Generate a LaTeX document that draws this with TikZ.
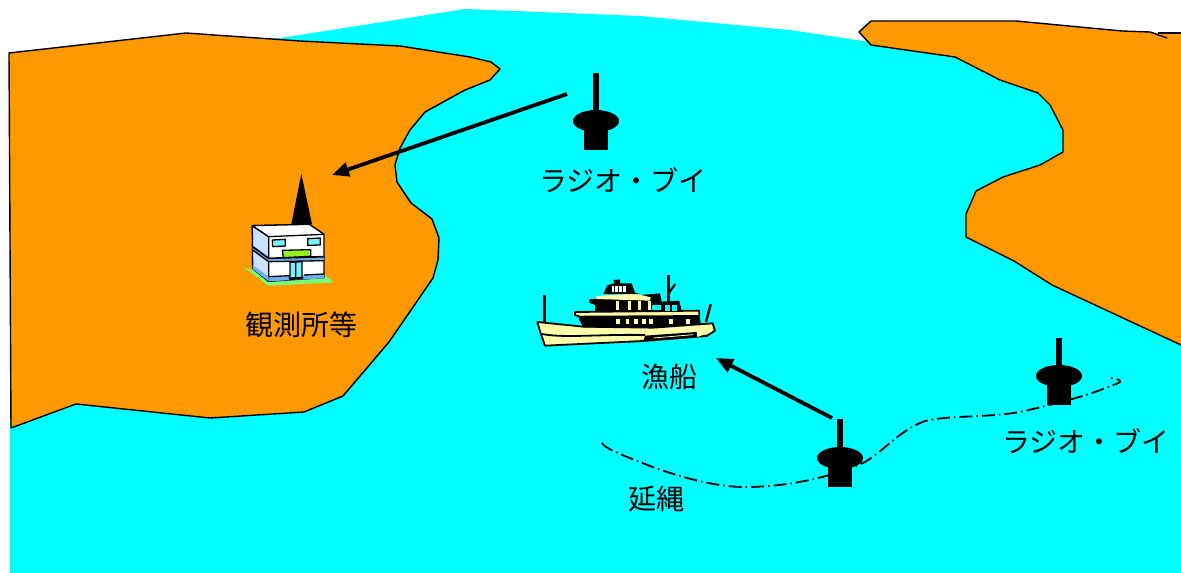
\documentclass[tikz,border=0pt]{standalone}
\usepackage{fontspec}
\newfontfamily\jpfont{Noto Sans CJK JP}
\usetikzlibrary{arrows.meta}
\definecolor{water}{RGB}{0,255,255}
\definecolor{land}{RGB}{255,153,0}
\definecolor{cream}{RGB}{255,255,170}
\definecolor{skyb}{RGB}{204,224,255}
\definecolor{winb}{RGB}{120,240,255}
\definecolor{bandb}{RGB}{110,175,240}
\definecolor{lawn}{RGB}{120,255,120}
\definecolor{limeg}{RGB}{150,240,30}
\tikzset{
  landshape/.style={fill=land,draw=black,line width=1.4pt,line join=round},
  label/.style={font=\jpfont\fontsize{28}{32}\selectfont,text=black,inner sep=0pt},
  mast/.style={fill=black,draw=none},
  signal/.style={draw=black,line width=3.8pt,-{Triangle[length=17pt,width=14pt]}},
  longline/.style={draw=black,line width=1.8pt,dash pattern=on 13pt off 4pt on 1.5pt off 4pt},
  shipline/.style={draw=black,line width=1.8pt,line join=round},
  bldg/.style={draw=black,line width=1.3pt,line join=round}
}
% #1 x, #2 ellipse y, #3 mast top
\newcommand{\buoy}[3]{%
  \fill[mast] (#1-3,#3) rectangle (#1+3,#2);
  \fill[mast] (#1,#2) ellipse [x radius=23,y radius=11];
  \fill[mast] (#1-12,#2+3) rectangle (#1+12,#2+29);
}
\begin{document}
\begin{tikzpicture}[x=1pt,y=-1pt]
\useasboundingbox (0,0) rectangle (1181,573);
\fill[white] (0,0) rectangle (1181,573);
% water
\fill[water] (10,573) -- (10,60) -- (280,38) -- (465,9) -- (640,16) -- (790,30) -- (870,42) -- (1181,60) -- (1181,573) -- cycle;
% left land
\path[landshape] (9,53) -- (186,33) -- (300,41) -- (400,46) -- (470,57) -- (491,62) -- (500,69) -- (490,80) -- (465,90) -- (425,112) -- (410,130) -- (400,148) -- (395,165) -- (397,182) -- (411,203) -- (432,219) -- (439,238) -- (438,260) -- (433,278) -- (389,342) -- (343,396) -- (304,412) -- (210,418) -- (76,404) -- (11,428) -- cycle;
% right land
\fill[land] (859,32) -- (871,21) -- (1016,21) -- (1122,31) -- (1150,32) -- (1158,33) -- (1181,33) -- (1181,345) -- (1052,285) -- (1014,261) -- (966,237) -- (966,214) -- (976,191) -- (1003,177) -- (1040,165) -- (1063,152) -- (1063,130) -- (1050,105) -- (1038,93) -- (1000,80) -- (955,57) -- (871,45) -- cycle;
\draw[landshape,fill=none] (1181,345) -- (1052,285) -- (1014,261) -- (966,237) -- (966,214) -- (976,191) -- (1003,177) -- (1040,165) -- (1063,152) -- (1063,130) -- (1050,105) -- (1038,93) -- (1000,80) -- (955,57) -- (871,45) -- (859,32) -- (871,21) -- (1016,21) -- (1122,31) -- (1150,32) -- (1167,38);
\draw[landshape,fill=none] (1158,33) -- (1181,33);
% long line
\draw[longline] (602,443) .. controls (605,449) and (625,456) .. (650,466) .. controls (680,477) and (715,487) .. (745,487) .. controls (785,487) and (830,478) .. (865,462) .. controls (885,450) and (900,430) .. (925,421) .. controls (950,415) and (985,418) .. (1020,412) .. controls (1050,405) and (1085,397) .. (1113,385) .. controls (1123,382) and (1123,380) .. (1111,378);
% buoys
\buoy{596}{121}{73}
\buoy{840}{458}{419}
\buoy{1059}{376}{338}
\coordinate (buoyA) at (567,94);
\coordinate (buoyB) at (832,418);
% building
\begin{scope}[shift={(230,165)},scale=1/3]
\fill[black] (214,26) -- (184,178) -- (246,178) -- cycle;
\fill[lawn] (40,305) -- (115,362) -- (312,352) -- (285,330) -- (100,330) -- cycle;
\path[bldg,fill=white] (67,182) -- (238,178) -- (282,208) -- (282,338) -- (116,349) -- (68,310) -- cycle;
\path[bldg,fill=skyb] (67,182) -- (116,215) -- (116,349) -- (68,310) -- cycle;
\path[bldg,fill=white] (67,182) -- (238,178) -- (282,208) -- (116,215) -- cycle;
\fill[bandb] (116,280) -- (282,275) -- (282,288) -- (116,290) -- cycle;
\fill[bandb] (68,245) -- (116,280) -- (116,290) -- (68,255) -- cycle;
\fill[bandb] (68,300) -- (116,335) -- (116,349) -- (68,312) -- cycle;
\fill[bandb] (116,336) -- (282,328) -- (282,340) -- (116,349) -- cycle;
\draw[bldg,line width=1.7pt] (68,245) -- (116,280) -- (282,275);
\draw[bldg] (68,255) -- (116,290) -- (282,287);
\draw[bldg] (116,335) -- (180,332);
\draw[bldg] (222,330) -- (282,327);
\path[bldg,fill=winb] (127,225) -- (166,223) -- (166,243) -- (128,245) -- cycle;
\path[bldg,fill=winb] (233,221) -- (271,219) -- (271,240) -- (233,241) -- cycle;
\path[bldg,fill=limeg] (157,256) -- (242,254) -- (242,274) -- (160,278) -- cycle;
\path[bldg,fill=winb] (180,292) -- (197,291) -- (197,342) -- (180,343) -- cycle;
\path[bldg,fill=winb] (197,291) -- (216,290) -- (216,341) -- (197,342) -- cycle;
\draw[bldg,line width=1.8pt] (176,340) -- (220,338);
\end{scope}
% ship
\begin{scope}[shift={(520,260)},scale=1/3]
\draw[black,line width=2.8pt] (74,105) -- (74,190);
\draw[black,line width=2.8pt] (445,45) -- (445,125);
\draw[black,line width=2.2pt] (447,98) -- (466,72);
\draw[black,line width=2.4pt] (572,133) -- (558,186);
\path[shipline,fill=cream] (52,186) -- (190,200) -- (400,203) -- (578,190) -- (585,212) -- (560,228) -- (370,243) -- (75,257) -- (62,220) -- cycle;
\fill[black] (375,227) -- (530,216) -- (560,226) -- (370,243) -- cycle;
\draw[black,line width=1.8pt] (66,222) .. controls (130,235) and (250,222) .. (375,225);
\draw[cream,line width=0.8pt] (400,234) -- (520,224);
\fill[cream] (530,215) -- (570,208) -- (575,215) -- (532,231) -- cycle;
% lower cabin
\fill[black] (175,165) -- (538,160) -- (542,190) -- (400,203) -- (190,202) -- (178,180) -- cycle;
\path[shipline,fill=cream] (165,156) -- (538,152) -- (538,168) -- (180,170) -- (165,165) -- cycle;
\foreach \x in {288,317,342,366,387,448,499} \fill[cream] (\x,177) rectangle ++(11,16);
% upper cabin
\fill[black] (208,118) -- (420,100) -- (425,125) -- (478,122) -- (485,154) -- (225,154) -- (225,135) -- (208,128) -- cycle;
\fill[water] (395,134) -- (422,134) -- (422,150) -- (395,150) -- cycle;
\fill[water] (435,136) -- (450,136) -- (450,152) -- (435,152) -- cycle;
\fill[water] (455,136) -- (470,136) -- (470,152) -- (455,152) -- cycle;
\foreach \x in {288,324,354,384} \fill[cream] (\x,124) rectangle ++(10,25);
\path[fill=cream] (228,108) -- (345,100) -- (392,112) -- (390,122) -- (230,117) -- cycle;
% wheelhouse
\fill[black] (250,102) -- (262,76) -- (280,70) -- (335,70) -- (345,98) -- (360,102) -- cycle;
\fill[black] (280,60) -- (300,58) -- (300,72) -- (285,72) -- cycle;
\fill[white] (275,78) rectangle (318,95);
\foreach \x in {282,294,306} \fill[black] (\x,78) rectangle ++(4,17);
\end{scope}
% arrows
\coordinate (stationEnd) at (332,175);
\coordinate (shipEnd) at (716,358);
\draw[signal] (buoyA) -- (stationEnd);
\draw[signal] (buoyB) -- (shipEnd);
% labels
\node[label] (lbA) at (623,180) {ラジオ・ブイ};
\node[label] (lbB) at (1086,441) {ラジオ・ブイ};
\node[label] (lbC) at (301,325) {観測所等};
\node[label] (lbD) at (669,377) {漁船};
\node[label] (lbE) at (656,499) {延縄};
\end{tikzpicture}
\end{document}
